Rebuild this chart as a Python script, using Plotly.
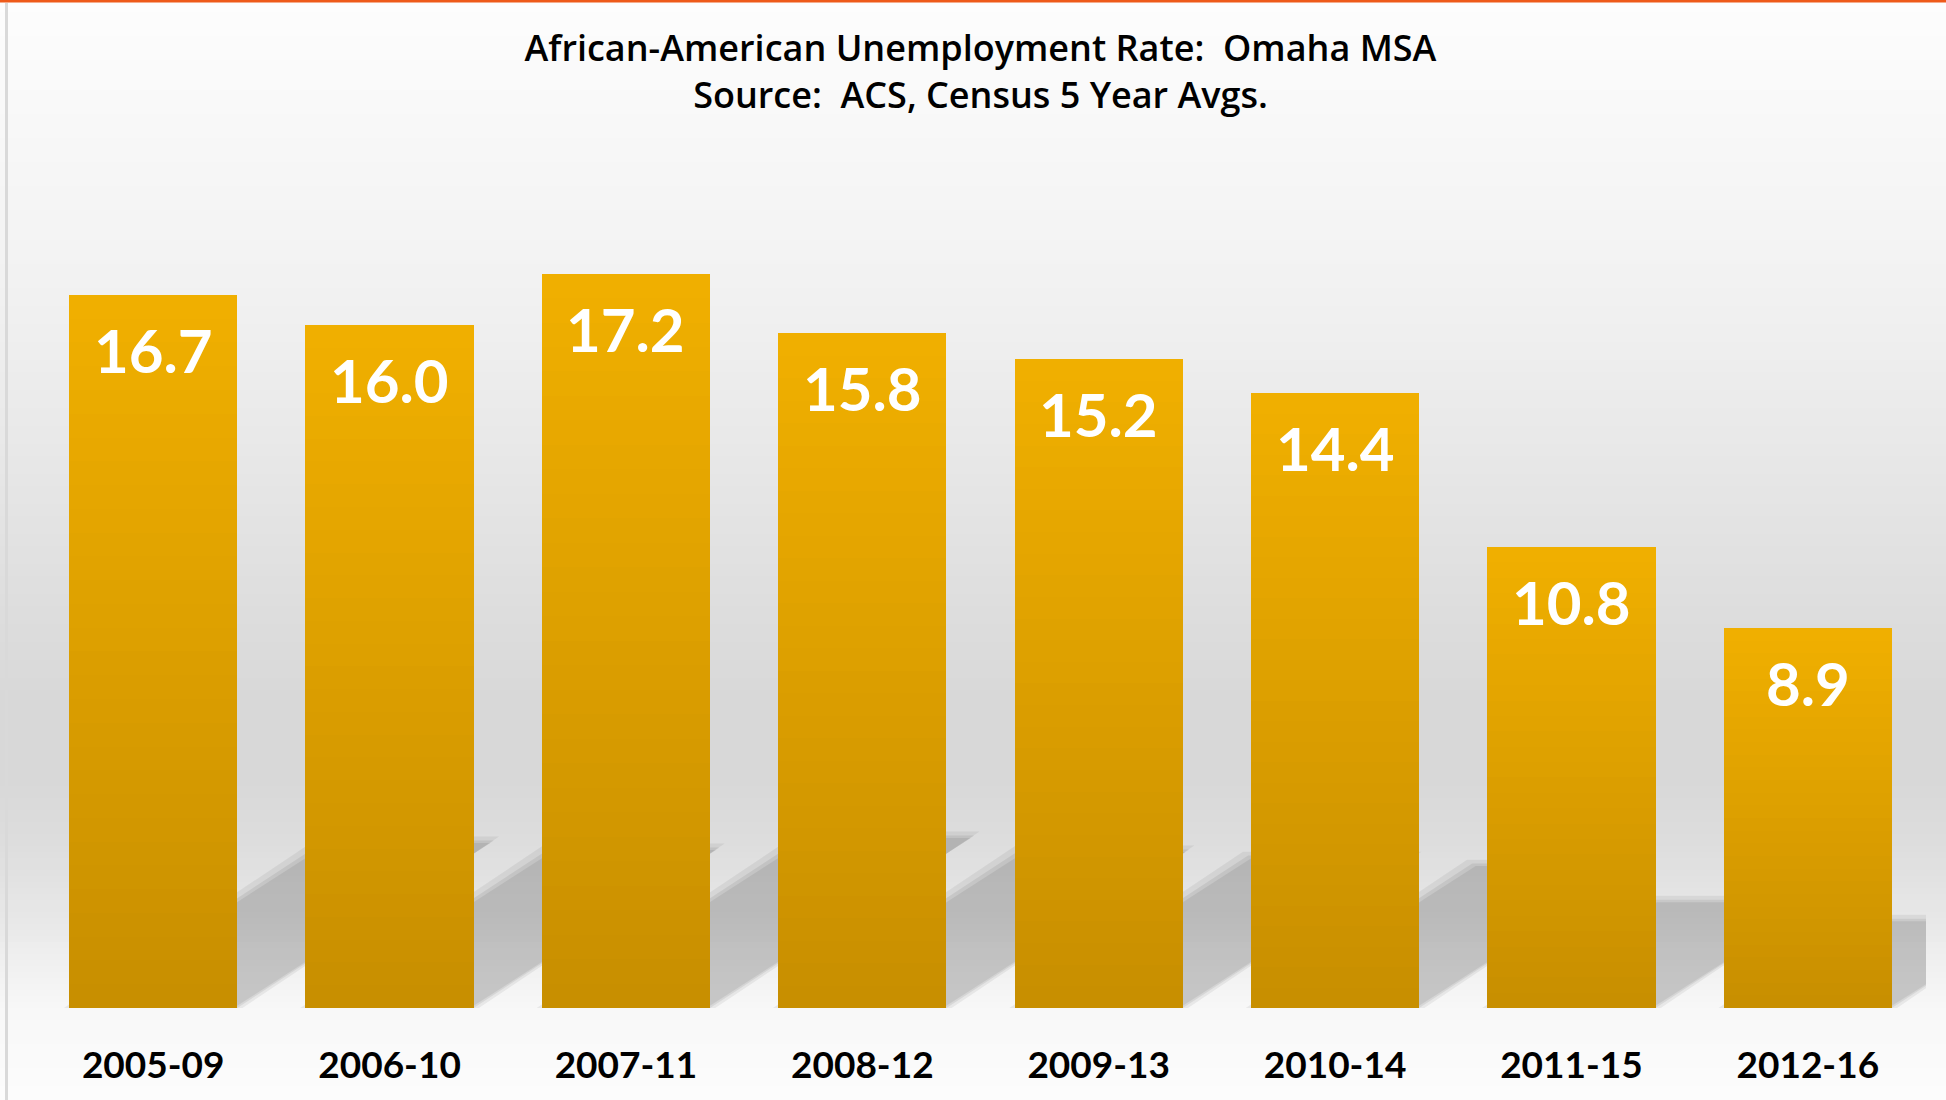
import plotly.graph_objects as go

# ---------------- data ----------------
periods = ["2005-09", "2006-10", "2007-11", "2008-12", "2009-13", "2010-14", "2011-15", "2012-16"]
rates = [16.7, 16.0, 17.2, 15.8, 15.2, 14.4, 10.8, 8.9]
rate_labels = ["16.7", "16.0", "17.2", "15.8", "15.2", "14.4", "10.8", "8.9"]

title_line1 = "African-American Unemployment Rate:  Omaha MSA"
title_line2 = "Source:  ACS, Census 5 Year Avgs."

# ---------------- layout constants ----------------
W, H = 1946, 1100
ML, MR, MT, MB = 35, 20, 154, 92
YMAX = 20
BAR_W = 0.712
N_SEG = 30
TOP_COL = (240, 175, 0)
BOT_COL = (200, 143, 0)

plot_h = H - MT - MB


def mix(c1, c2, t):
    return "rgb(%d,%d,%d)" % tuple(round(a + (b - a) * t) for a, b in zip(c1, c2))


xs = list(range(len(periods)))

fig = go.Figure()

# gradient bars: overlapping segments, each from its base to the bar top
for k in range(N_SEG):
    t = k / (N_SEG - 1)
    fig.add_trace(go.Bar(
        x=xs,
        y=[v * (1 - k / N_SEG) for v in rates],
        base=[v * k / N_SEG for v in rates],
        width=BAR_W,
        marker=dict(color=mix(BOT_COL, TOP_COL, t), line=dict(width=0)),
        hoverinfo="skip" if k else "x+y",
        showlegend=False,
    ))

# ---------------- background gradient (paper shapes) ----------------
def py_to_paper(py):
    return (H - MB - py) / plot_h


def px_to_paper(px):
    return (px - ML) / (W - ML - MR)


stops = [(0, 253), (150, 247), (300, 241), (450, 232), (600, 222), (700, 216),
         (780, 216), (850, 222), (920, 232), (980, 243), (1010, 248), (1100, 252)]


def gray_at(py):
    for (y0, g0), (y1, g1) in zip(stops, stops[1:]):
        if y0 <= py <= y1:
            return g0 + (g1 - g0) * (py - y0) / (y1 - y0)
    return stops[-1][1]


shapes = []
step = 6
for py in range(0, H, step):
    g = round(gray_at(py + step / 2))
    shapes.append(dict(type="rect", xref="paper", yref="paper", layer="below",
                       x0=px_to_paper(0), x1=px_to_paper(W),
                       y0=py_to_paper(H), y1=py_to_paper(py),
                       fillcolor="rgb(%d,%d,%d)" % (g, g, g), line=dict(width=0)))

# left slide border and top accent line
shapes.append(dict(type="rect", xref="paper", yref="paper", layer="below",
                   x0=px_to_paper(5), x1=px_to_paper(8), y0=py_to_paper(H), y1=py_to_paper(3),
                   fillcolor="#d9d9d9", line=dict(width=0)))
shapes.append(dict(type="rect", xref="paper", yref="paper", layer="above",
                   x0=px_to_paper(0), x1=px_to_paper(W), y0=py_to_paper(2.5), y1=py_to_paper(0),
                   fillcolor="#ee5a1a", line=dict(width=0)))

# ---------------- bar shadows (derived from bar positions) ----------------
SH_SCALE = 0.235   # shadow height / bar height
SH_SLANT = 0.065   # horizontal slant (categories per unit of value)
layers = [(0.022, 0.09, 0.06), (0.0, 0.0, 0.07), (-0.015, -0.06, 0.07)]
for x, v in zip(xs, rates):
    for ex, ey, a in layers:
        hw = BAR_W / 2 + ex
        top = v * SH_SCALE + ey
        dx = v * SH_SLANT
        path = "M %f,0 L %f,0 L %f,%f L %f,%f Z" % (
            x - hw, x + hw, x + hw + dx, top, x - hw + dx, top)
        shapes.append(dict(type="path", xref="x", yref="y", layer="below", path=path,
                           fillcolor="rgba(0,0,0,%.3f)" % a, line=dict(width=0)))

# ---------------- value labels ----------------
annotations = []
for x, v, lab in zip(xs, rates, rate_labels):
    annotations.append(dict(x=x, y=v, xref="x", yref="y", text=lab, showarrow=False,
                            yanchor="top", yshift=-17,
                            font=dict(family="Lato", size=60, color="white", weight="bold")))

fig.update_layout(
    width=W, height=H,
    margin=dict(l=ML, r=MR, t=MT, b=MB),
    paper_bgcolor="white",
    plot_bgcolor="rgba(0,0,0,0)",
    barmode="overlay",
    bargap=0,
    title=dict(text=title_line1 + "<br>" + title_line2,
               x=0.5, xref="paper", xanchor="center",
               y=1 - 61 / H, yref="container", yanchor="top",
               font=dict(family="Open Sans", size=36, color="black", weight=600)),
    xaxis=dict(range=[-0.5, len(periods) - 0.5], tickvals=xs, ticktext=periods,
               showgrid=False, zeroline=False, showline=False,
               ticks="outside", ticklen=25, tickcolor="rgba(0,0,0,0)",
               tickfont=dict(family="Lato", size=37, color="black", weight="bold")),
    yaxis=dict(range=[0, YMAX], visible=False, showgrid=False, zeroline=False),
    shapes=shapes,
    annotations=annotations,
)

fig.write_html("out.html", config={"displayModeBar": False},
               post_script="document.body.style.margin='0';document.body.style.overflow='hidden';")
